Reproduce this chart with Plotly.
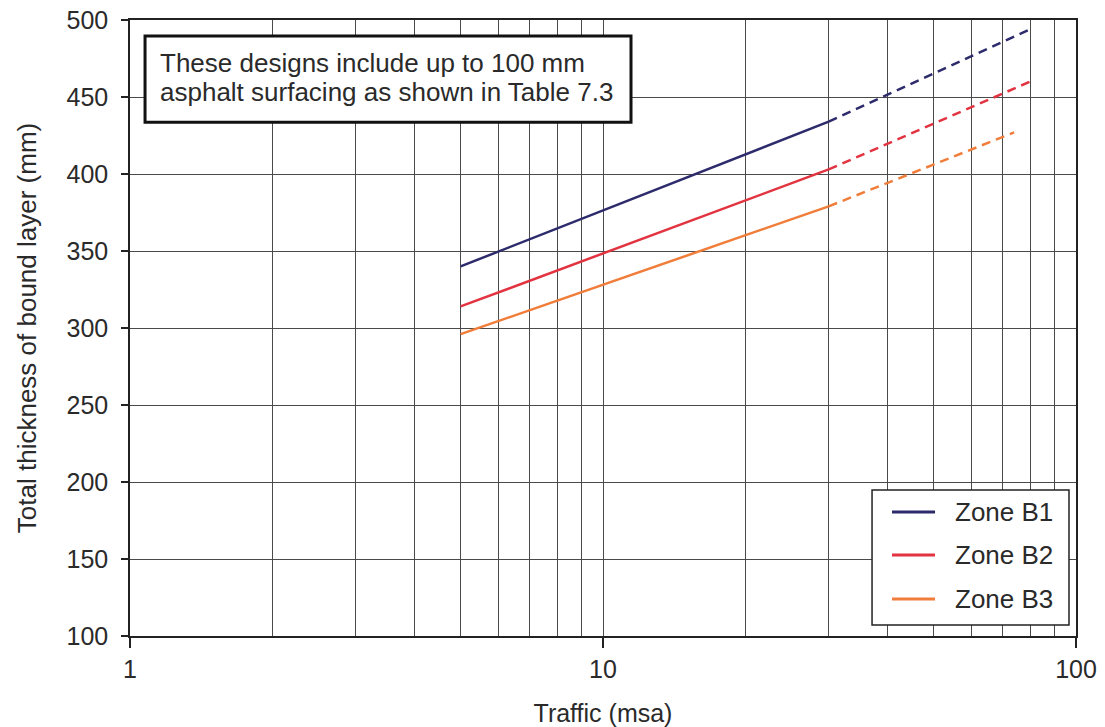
import plotly.graph_objects as go

# Traffic (msa) and bound-layer thickness (mm) for each zone.
# Solid part: design range; dashed part: extrapolation.
zones = ["Zone B1", "Zone B2", "Zone B3"]
colors = ["#2d2b6b", "#e23340", "#f07d3a"]

traffic_solid = [[5, 30], [5, 30], [5, 30]]
thickness_solid = [[340, 434], [314, 403], [296, 379]]

traffic_dashed = [[30, 80], [30, 80], [30, 74]]
thickness_dashed = [[434, 494], [403, 460], [379, 427]]

x_major = [1, 10, 100]
x_minor = [2, 3, 4, 5, 6, 7, 8, 9, 20, 30, 40, 50, 60, 70, 80, 90]
y_ticks = [100, 150, 200, 250, 300, 350, 400, 450, 500]

note_lines = ["These designs include up to 100 mm",
              "asphalt surfacing as shown in Table 7.3"]

FONT = "Liberation Sans, Arial, Helvetica, sans-serif"
TEXT = "#2a2a2a"
GRID = "#4a4a4a"

fig = go.Figure()
for i, name in enumerate(zones):
    fig.add_trace(go.Scatter(
        x=traffic_solid[i], y=thickness_solid[i], mode="lines", name=name,
        legendgroup=name, showlegend=False, line=dict(color=colors[i], width=2.5)))
    fig.add_trace(go.Scatter(
        x=traffic_dashed[i], y=thickness_dashed[i], mode="lines", name=name,
        legendgroup=name, showlegend=False,
        line=dict(color=colors[i], width=2.5, dash="9px,6px")))

fig.update_layout(
    width=1105, height=727,
    margin=dict(l=130, r=29, t=20, b=91),
    paper_bgcolor="white", plot_bgcolor="white",
    font=dict(family=FONT, size=24, color=TEXT),
    showlegend=False,
)

fig.update_xaxes(
    type="log", range=[0, 2], automargin=False,
    tickvals=x_major, ticktext=[str(v) for v in x_major],
    ticks="outside", ticklen=10, tickcolor="#222222", tickwidth=1.5,
    showline=True, linecolor="#222222", linewidth=1.5, mirror=True,
    showgrid=True, gridcolor=GRID, gridwidth=1,
    minor=dict(tickvals=x_minor, showgrid=True, gridcolor=GRID, gridwidth=1, ticks=""),
    tickfont=dict(size=25, color=TEXT),
    title=dict(text="Traffic (msa)", font=dict(size=25, color=TEXT), standoff=26),
    zeroline=False,
)

fig.update_yaxes(
    range=[100, 500], tickvals=y_ticks, automargin=False,
    ticks="outside", ticklen=7, tickcolor="#222222", tickwidth=1.5,
    ticklabelstandoff=8,
    showline=True, linecolor="#222222", linewidth=1.5, mirror=True,
    showgrid=True, gridcolor=GRID, gridwidth=1,
    tickfont=dict(size=25, color=TEXT),
    title=dict(text="Total thickness of bound layer (mm)",
               font=dict(size=26, color=TEXT), standoff=22),
    zeroline=False,
)

# Note box in the upper-left corner of the plot
fig.add_shape(type="rect", xref="paper", yref="paper",
              x0=0.0159, x1=0.5296, y0=0.834, y1=0.974,
              line=dict(color="#111111", width=3), fillcolor="white", layer="above")
for line_text, yy in zip(note_lines, [0.931, 0.883]):
    fig.add_annotation(text=line_text, xref="paper", yref="paper",
                       x=0.0295, y=yy, xanchor="left", yanchor="middle",
                       showarrow=False, font=dict(family=FONT, size=26, color=TEXT))

# Key box in the lower-right corner: frame, colour swatches and zone names
fig.add_shape(type="rect", xref="paper", yref="paper",
              x0=0.7844, x1=0.9926, y0=0.0179, y1=0.237,
              line=dict(color="#222222", width=1.5), fillcolor="white", layer="above")
key_rows = [0.2013, 0.1315, 0.0601]
for name, col, ky in zip(zones, colors, key_rows):
    fig.add_shape(type="line", xref="paper", yref="paper",
                  x0=0.8055, x1=0.8510, y0=ky, y1=ky,
                  line=dict(color=col, width=3), layer="above")
    fig.add_annotation(text=name, xref="paper", yref="paper",
                       x=0.870, y=ky, xanchor="left", yanchor="middle",
                       showarrow=False, font=dict(family=FONT, size=26, color=TEXT))

fig.write_html("out.html")
